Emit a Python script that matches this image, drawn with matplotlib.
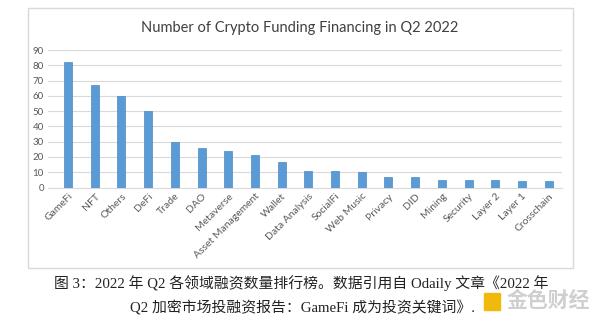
import matplotlib.pyplot as plt
from matplotlib.patches import Rectangle

categories = ['GameFi', 'NFT', 'Others', 'DeFi', 'Trade', 'DAO', 'Metaverse',
              'Asset Management', 'Wallet', 'Data Analysis', 'SocialFi', 'Web Music',
              'Privacy', 'DID', 'Mining', 'Security', 'Layer 2', 'Layer 1', 'Crosschain']
counts = [82, 67, 60, 50, 30, 26, 24, 21, 17, 11, 11, 10, 7, 7, 5, 5, 5, 4, 4]
yticks = [0, 10, 20, 30, 40, 50, 60, 70, 80, 90]

W, H = 600, 324
fig = plt.figure(figsize=(6, 3.24), dpi=100)

# chart frame
fig.patches.append(Rectangle((28 / W, 1 - 268 / H), 545 / W, 260 / H,
                             transform=fig.transFigure, fill=False,
                             edgecolor='#d9d9d9', linewidth=1.0))

ax = fig.add_axes([48 / W, 1 - 187.5 / H, (562 - 48) / W, (187.5 - 50) / H])
x = range(len(categories))
ax.bar(x, counts, width=0.3, color='#5b9bd5', edgecolor='#4a89c4', linewidth=0.5, zorder=3)
ax.set_ylim(0, 90)
ax.set_xlim(-0.75, len(categories) - 0.5)
ax.set_yticks(yticks)
ax.set_yticklabels([str(v) for v in yticks], fontsize=7, color='#595959', family='Lato')
ax.yaxis.grid(True, color='#d9d9d9', linewidth=0.8, zorder=0)
ax.set_xticks(list(x))
ax.set_xticklabels(categories, rotation=45, ha='right', rotation_mode='anchor',
                   fontsize=7.5, color='#595959', family='Lato')
ax.tick_params(axis='both', length=0, pad=3)
for s in ['top', 'right', 'left']:
    ax.spines[s].set_visible(False)
ax.spines['bottom'].set_color('#d9d9d9')

fig.text(0.5, 1 - 28 / H, 'Number of Crypto Funding Financing in Q2 2022',
         ha='center', va='center', fontsize=10.5, color='#404040', family='Lato')

cap_font = ['Liberation Serif', 'Noto Sans CJK SC']
fig.text(301 / W, 1 - 283 / H, '图 3：2022 年 Q2 各领域融资数量排行榜。数据引用自 Odaily 文章《2022 年',
         ha='center', va='center', fontsize=10.7, color='#222222', family=cap_font)
fig.text(130 / W, 1 - 308 / H, 'Q2 加密市场投融资报告：GameFi 成为投资关键词》.',
         ha='left', va='center', fontsize=10.7, color='#222222', family=cap_font)

# watermark
fig.patches.append(Rectangle((484 / W, 1 - 310 / H), 16 / W, 17 / H,
                             transform=fig.transFigure, color='#f0b90b'))
fig.text(507 / W, 1 - 300 / H, '金色财经', ha='left', va='center', fontsize=15,
         color='#cfcfcf', family='Noto Sans CJK SC', fontweight='bold')

fig.savefig('out.png', dpi=100)
